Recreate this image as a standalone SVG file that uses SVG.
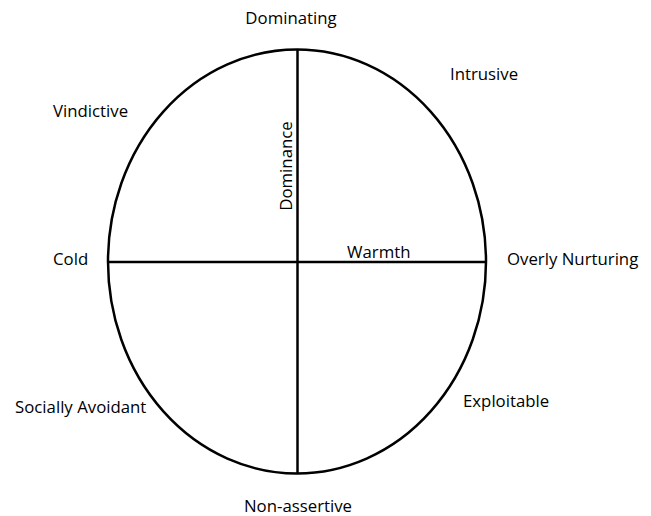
<svg xmlns="http://www.w3.org/2000/svg" width="651" height="516" viewBox="0 0 651 516">
<style>
.lbl{font-family:"Open Sans","Liberation Sans",sans-serif;font-size:16.8px;fill:#000}
.ln{stroke:#000;stroke-width:2.5;fill:none}
</style>
<rect width="651" height="516" fill="#fff"/>
<g id="connectors">
<ellipse class="ln" cx="297" cy="261.5" rx="189" ry="212"/>
<line class="ln" x1="297.5" y1="50" x2="297.5" y2="473"/>
<line class="ln" x1="108" y1="262" x2="486" y2="262"/>
</g>
<g id="axis-dominance"><text class="lbl" transform="translate(291.5,166) rotate(-90)" text-anchor="middle">Dominance</text></g>
<g id="axis-warmth"><text class="lbl" x="347" y="258">Warmth</text></g>
<g id="dominating"><text class="lbl" x="291" y="24" text-anchor="middle">Dominating</text></g>
<g id="intrusive"><text class="lbl" x="450" y="80">Intrusive</text></g>
<g id="vindictive"><text class="lbl" x="53" y="117">Vindictive</text></g>
<g id="cold"><text class="lbl" x="53" y="265">Cold</text></g>
<g id="overly-nurturing"><text class="lbl" x="507" y="265">Overly Nurturing</text></g>
<g id="socially-avoidant"><text class="lbl" x="15" y="413">Socially Avoidant</text></g>
<g id="exploitable"><text class="lbl" x="463" y="407">Exploitable</text></g>
<g id="non-assertive"><text class="lbl" x="298" y="512" text-anchor="middle">Non-assertive</text></g>
</svg>
